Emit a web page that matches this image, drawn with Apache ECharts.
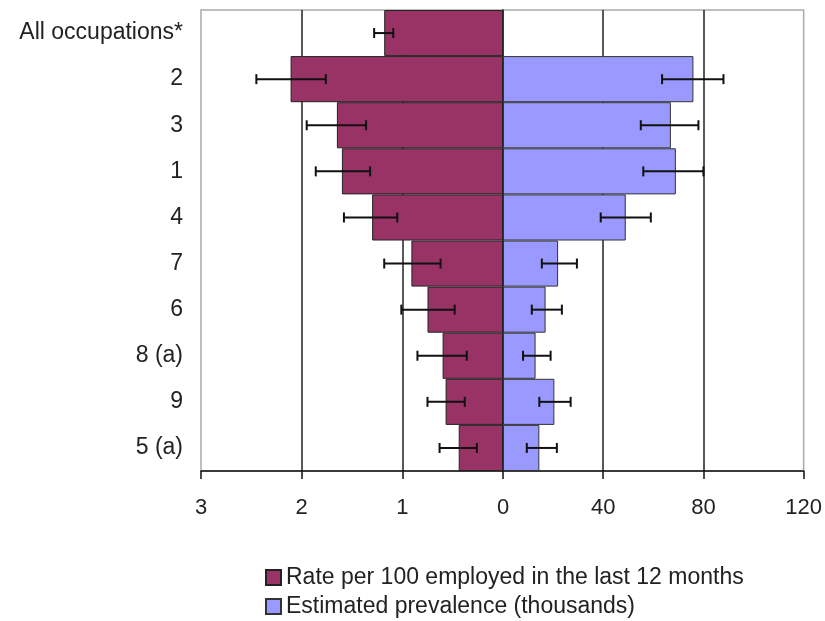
<!DOCTYPE html>
<html>
<head>
<meta charset="utf-8">
<script src="https://cdn.jsdelivr.net/npm/echarts@6/dist/echarts.min.js"></script>
<style>
  html, body { margin: 0; padding: 0; background: #fff; }
  #chart { width: 825px; height: 621px; }
</style>
</head>
<body>
<div id="chart"></div>
<script>
// 数据
var categories = ['All occupations*', '2', '3', '1', '4', '7', '6', '8 (a)', '9', '5 (a)'];
var rate = [1.18, 2.11, 1.65, 1.60, 1.30, 0.91, 0.75, 0.60, 0.57, 0.44];
var rateLow = [1.09, 1.76, 1.36, 1.32, 1.05, 0.62, 0.48, 0.36, 0.38, 0.26];
var rateHigh = [1.28, 2.45, 1.95, 1.86, 1.58, 1.18, 1.01, 0.85, 0.75, 0.63];
var prevalence = [null, 76, 67, 69, 49, 22, 17, 13, 20.5, 14.5];
var prevLow = [null, 63.5, 55, 56, 39, 15.5, 11.5, 8, 14.5, 9.5];
var prevHigh = [null, 88, 78, 80, 59, 29.5, 23.5, 19, 27, 21.5];

var rateName = 'Rate per 100 employed in the last 12 months';
var prevName = 'Estimated prevalence (thousands)';
var font = 'Liberation Sans, Arial, sans-serif';

function errData(lo, hi) {
    var out = [];
    for (var i = 0; i < categories.length; i++) {
        if (lo[i] != null) out.push([lo[i], hi[i], i]);
    }
    return out;
}

function renderErr(params, api) {
    var p1 = api.coord([api.value(0), api.value(2)]);
    var p2 = api.coord([api.value(1), api.value(2)]);
    var h = 5;
    var st = { stroke: '#111', lineWidth: 2 };
    return {
        type: 'group',
        children: [
            { type: 'line', shape: { x1: p1[0], y1: p1[1], x2: p2[0], y2: p2[1] }, style: st },
            { type: 'line', shape: { x1: p1[0], y1: p1[1] - h, x2: p1[0], y2: p1[1] + h }, style: st },
            { type: 'line', shape: { x1: p2[0], y1: p2[1] - h, x2: p2[0], y2: p2[1] + h }, style: st }
        ]
    };
}

var chart = echarts.init(document.getElementById('chart'));

var axisLabelStyle = { fontFamily: font, fontSize: 22, color: '#222' };
var legendText = { fontFamily: font, fontSize: 23, color: '#222' };

var option = {
    animation: false,
    backgroundColor: '#fff',
    grid: [
        { left: 201, top: 10, width: 302, height: 461, show: true, borderColor: '#aaa', borderWidth: 1.5 },
        { left: 503, top: 10, width: 301, height: 461, show: true, borderColor: '#aaa', borderWidth: 1.5 }
    ],
    xAxis: [
        {
            gridIndex: 0, type: 'value', inverse: true, min: 0, max: 3, interval: 1,
            axisLine: { show: true, lineStyle: { color: '#111', width: 1.5 } },
            axisTick: { show: true, length: 8, lineStyle: { color: '#111', width: 1.5 } },
            axisLabel: Object.assign({ margin: 26 }, axisLabelStyle),
            splitLine: { show: true, showMinLine: false, showMaxLine: false, lineStyle: { color: '#222', width: 1.5 } }
        },
        {
            gridIndex: 1, type: 'value', min: 0, max: 120, interval: 40,
            axisLine: { show: true, lineStyle: { color: '#111', width: 1.5 } },
            axisTick: { show: true, length: 8, lineStyle: { color: '#111', width: 1.5 } },
            axisLabel: Object.assign({ margin: 26, showMinLabel: false }, axisLabelStyle),
            splitLine: { show: true, showMinLine: false, showMaxLine: false, lineStyle: { color: '#222', width: 1.5 } }
        }
    ],
    yAxis: [
        {
            gridIndex: 0, type: 'category', inverse: true, data: categories,
            axisLine: { show: false },
            axisTick: { show: false },
            axisLabel: Object.assign({ margin: 18 }, axisLabelStyle, { fontSize: 23 })
        },
        {
            gridIndex: 1, type: 'category', inverse: true, data: categories,
            axisLine: { show: true, lineStyle: { color: '#111', width: 1.5 } },
            axisTick: { show: false },
            axisLabel: { show: false }
        }
    ],
    legend: [
        {
            data: [rateName], left: 265, top: 566,
            itemWidth: 15, itemHeight: 15, itemGap: 0, icon: 'rect', padding: 0,
            textStyle: legendText
        },
        {
            data: [prevName], left: 265, top: 595,
            itemWidth: 15, itemHeight: 15, itemGap: 0, icon: 'rect', padding: 0,
            textStyle: legendText
        }
    ],
    series: [
        {
            name: rateName, type: 'bar', xAxisIndex: 0, yAxisIndex: 0,
            data: rate, barWidth: '100%',
            itemStyle: { color: '#993366', borderColor: '#222', borderWidth: 1 }
        },
        {
            name: prevName, type: 'bar', xAxisIndex: 1, yAxisIndex: 1,
            data: prevalence, barWidth: '100%',
            itemStyle: { color: '#9999FF', borderColor: '#333', borderWidth: 1 }
        },
        {
            name: 'rateErr', type: 'custom', xAxisIndex: 0, yAxisIndex: 0,
            renderItem: renderErr, encode: { x: [0, 1], y: 2 },
            data: errData(rateLow, rateHigh), z: 5
        },
        {
            name: 'prevErr', type: 'custom', xAxisIndex: 1, yAxisIndex: 1,
            renderItem: renderErr, encode: { x: [0, 1], y: 2 },
            data: errData(prevLow, prevHigh), z: 5
        }
    ]
};

chart.setOption(option);
</script>
</body>
</html>
